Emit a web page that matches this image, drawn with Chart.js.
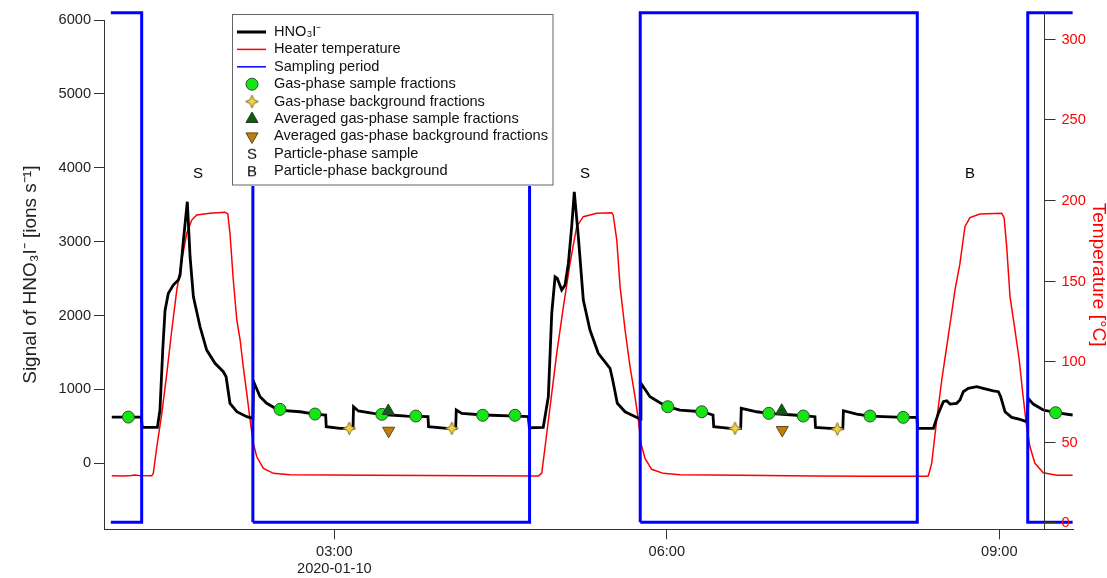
<!DOCTYPE html>
<html>
<head>
<meta charset="utf-8">
<script src="https://cdn.jsdelivr.net/npm/chart.js@4/dist/chart.umd.min.js"></script>
<style>
  html, body { margin: 0; padding: 0; background: #fff; }
  #wrap { width: 1107px; height: 578px; position: relative; }
</style>
</head>
<body>
<div id="wrap"><canvas id="hno3Chart"></canvas></div>
<script>
// time in minutes after 00:00, 2020-01-10
const timeTicks = [180, 360, 540];
const signalTicks = [0, 1000, 2000, 3000, 4000, 5000, 6000];
const tempTicks = [0, 50, 100, 150, 200, 250, 300];

const hno3Time = [59.5, 75.5, 76.0, 84.2, 85.6, 87.1, 88.35, 90.1, 92.8, 95.55, 96.5, 98.3, 100.4, 101.9, 103.7, 107.3, 110.9, 115.4, 119.9, 121.4, 123.5, 127.2, 132.6, 135.9, 136.3, 139.8, 143.4, 149.7, 161.4, 169.55, 175.3, 175.6, 183.1, 190.1, 190.4, 193.0, 201.1, 210.2, 219.2, 230.7, 231.0, 240.8, 245.7, 246.0, 249.0, 260.7, 278.7, 285.0, 285.6, 293.1, 295.85, 297.7, 299.5, 300.7, 303.1, 304.9, 306.7, 308.5, 309.9, 312.1, 314.8, 318.4, 322.9, 329.25, 330.7, 333.2, 337.4, 344.6, 345.6, 346.0, 350.9, 356.3, 360.5, 367.1, 378.9, 385.0, 385.4, 394.2, 400.0, 400.3, 408.7, 415.2, 428.5, 440.2, 440.5, 448.3, 455.3, 455.6, 462.8, 470.0, 488.0, 495.4, 495.8, 504.3, 507.0, 509.7, 511.5, 513.3, 516.9, 518.7, 520.5, 523.2, 527.8, 531.3, 536.75, 539.5, 540.75, 543.1, 546.7, 551.2, 555.0, 555.6, 558.4, 563.8, 570.5, 579.7];
const hno3Signal = [626, 626, 487, 487, 721, 1533, 2070, 2300, 2413, 2480, 2548, 3022, 3540, 2796, 2254, 1848, 1533, 1353, 1240, 1172, 812, 698, 631, 609, 1104, 901, 812, 721, 698, 667, 654, 496, 473, 473, 766, 708, 676, 654, 640, 631, 496, 473, 473, 721, 676, 654, 640, 631, 482, 487, 901, 2030, 2525, 2503, 2345, 2413, 2706, 3202, 3675, 3066, 2210, 1804, 1489, 1286, 1127, 812, 698, 609, 600, 1083, 901, 820, 766, 721, 698, 654, 496, 473, 473, 744, 698, 676, 654, 631, 487, 473, 473, 712, 667, 640, 622, 622, 473, 473, 676, 834, 847, 802, 812, 857, 969, 1015, 1037, 1015, 982, 969, 901, 698, 622, 595, 563, 880, 802, 721, 685, 654];

const heaterTime = [59.5, 66, 70, 72, 74, 81.15, 82.0, 83.9, 86.6, 89.3, 92.0, 94.7, 97.4, 100.1, 102.8, 105.5, 112.7, 120.8, 122.3, 123.5, 125.3, 127.2, 129.0, 130.7, 132.6, 134.4, 136.15, 138.0, 141.6, 147.0, 156.0, 200, 230, 260, 290.5, 292.3, 294.1, 296.8, 300.4, 304.0, 307.6, 311.2, 314.8, 322.05, 330.2, 331.0, 332.9, 334.7, 337.4, 340.1, 342.8, 344.6, 346.0, 348.2, 351.8, 358.1, 367.1, 400, 440, 470, 500.7, 501.6, 503.4, 506.1, 508.85, 511.5, 514.2, 516.0, 518.7, 521.4, 524.1, 529.55, 541.3, 542.6, 544.0, 545.8, 548.5, 550.8, 552.7, 554.8, 556.6, 559.3, 563.8, 571.1, 579.7];
const heaterTemp = [28.9, 28.8, 29.0, 29.4, 29.0, 28.9, 30.4, 46.9, 67.6, 92.4, 119.3, 144.1, 162.7, 179.3, 187.5, 190.6, 191.7, 192.3, 191.5, 179.3, 150.3, 125.5, 113.1, 96.5, 80.0, 63.5, 49.0, 40.7, 33.5, 30.4, 29.5, 29.3, 29.0, 28.9, 28.8, 30.5, 46.9, 71.7, 104.8, 133.7, 160.7, 183.4, 189.6, 191.7, 192.1, 190.5, 175.1, 146.2, 119.3, 96.5, 77.9, 63.5, 49.0, 39.7, 32.9, 30.4, 29.5, 29.2, 28.8, 28.6, 28.6, 28.9, 36.6, 63.5, 88.3, 108.9, 129.7, 144.1, 160.7, 183.4, 189.0, 191.3, 191.7, 189.0, 171.0, 140.0, 119.3, 100.7, 80.0, 59.3, 46.9, 36.6, 30.8, 29.3, 29.3];

// sampling periods (first and last are cut by the start / end of the record)
const samplingStart = [59.0, 135.9, 345.6, 555.4];
const samplingEnd = [75.7, 285.7, 495.6, 579.7];

const gasSampleTime = [68.5, 150.6, 169.55, 205.7, 224.1, 260.3, 277.8, 360.5, 378.9, 415.2, 433.9, 470.0, 488.0, 570.5];
const gasSampleSignal = [626, 730, 667, 663, 640, 650, 650, 766, 698, 676, 640, 640, 622, 685];
const gasBgTime = [188.1, 243.6, 396.9, 452.3];
const gasBgSignal = [473, 473, 473, 464];
const avgSampleTime = [209.2, 422.2];
const avgSampleSignal = [708, 712];
const avgBgTime = [209.4, 422.5];
const avgBgSignal = [441, 451];
const particleSampleTime = [106.2, 315.7];
const particleSampleSignal = [3930, 3930];
const particleBgTime = [524.1];
const particleBgSignal = [3930];

const FONT = '"Liberation Sans", Arial, sans-serif';
const tempAxisAt = 564.4; // time where the temperature axis sits

function pts(xs, ys) {
    return xs.map((x, i) => ({ x: x, y: ys[i] }));
}

// each sampling period as a box between flag 0 and flag 1
function samplingBoxes() {
    const out = [];
    const last = samplingStart.length - 1;
    samplingStart.forEach((s, i) => {
        const e = samplingEnd[i];
        if (i === 0) {
            out.push({ x: s, y: 1 }, { x: e, y: 1 }, { x: e, y: 0 }, { x: s, y: 0 });
        } else if (i === last) {
            out.push({ x: e, y: 0 }, { x: s, y: 0 }, { x: s, y: 1 }, { x: e, y: 1 });
        } else {
            out.push({ x: s, y: 0 }, { x: s, y: 1 }, { x: e, y: 1 }, { x: e, y: 0 }, { x: s, y: 0 });
        }
        out.push({ x: e, y: null });
    });
    return out;
}

function starImage(size, fill, stroke) {
    const c = document.createElement("canvas");
    c.width = c.height = size;
    const g = c.getContext("2d");
    const m = size / 2, r = size / 2 - 1, ri = r * 0.42;
    g.beginPath();
    for (let k = 0; k < 8; k++) {
        const a = -Math.PI / 2 + k * Math.PI / 4;
        const rr = k % 2 ? ri : r;
        g.lineTo(m + rr * Math.cos(a), m + rr * Math.sin(a));
    }
    g.closePath();
    g.fillStyle = fill;
    g.fill();
    g.strokeStyle = stroke;
    g.lineWidth = 1;
    g.stroke();
    return c;
}

function letterImage(ch) {
    const c = document.createElement("canvas");
    c.width = 16;
    c.height = 18;
    const g = c.getContext("2d");
    g.font = "15px " + FONT;
    g.textAlign = "center";
    g.textBaseline = "middle";
    g.fillStyle = "#000";
    g.fillText(ch, 8, 9.5);
    return c;
}

const legendLabels = [
    "HNO\u2083I\u207B",
    "Heater temperature",
    "Sampling period",
    "Gas-phase sample fractions",
    "Gas-phase background fractions",
    "Averaged gas-phase sample fractions",
    "Averaged gas-phase background fractions",
    "Particle-phase sample",
    "Particle-phase background",
];

const boxLegend = {
    id: "boxLegend",
    afterDraw(chart) {
        const ctx = chart.ctx;
        ctx.save();
        ctx.fillStyle = "#fff";
        ctx.fillRect(232, 10, 322, 176);
        ctx.strokeStyle = "#666";
        ctx.lineWidth = 1;
        ctx.strokeRect(232.5, 14.5, 320.5, 170.5);
        legendLabels.forEach((label, i) => {
            const ds = chart.data.datasets.find(d => d.label === label);
            const y = 32 + i * 17.4;
            if (ds.type === "line") {
                ctx.strokeStyle = ds.borderColor;
                ctx.lineWidth = ds.legendWidth;
                ctx.beginPath();
                ctx.moveTo(237, y);
                ctx.lineTo(266, y);
                ctx.stroke();
            } else {
                ctx.fillStyle = ds.backgroundColor || "#000";
                ctx.strokeStyle = ds.borderColor || "#000";
                ctx.lineWidth = ds.borderWidth || 0;
                Chart.helpers.drawPoint(ctx, {
                    pointStyle: ds.pointStyle,
                    radius: ds.pointRadius,
                    rotation: ds.pointRotation || 0,
                    borderWidth: ds.borderWidth || 0,
                }, 252, y);
            }
            ctx.fillStyle = "#111";
            ctx.font = "14.6px " + FONT;
            ctx.textAlign = "left";
            ctx.textBaseline = "middle";
            ctx.fillText(label, 274, y);
        });
        ctx.restore();
    },
};

// temperature axis drawn inside the plot, at tempAxisAt
const tempAxis = {
    id: "tempAxis",
    afterDatasetsDraw(chart) {
        const { ctx, chartArea, scales } = chart;
        const ax = Math.round(scales.x.getPixelForValue(tempAxisAt)) + 0.5;
        ctx.save();
        ctx.strokeStyle = "#333";
        ctx.lineWidth = 1;
        ctx.beginPath();
        ctx.moveTo(ax, scales.yFlag.getPixelForValue(1));
        ctx.lineTo(ax, chartArea.bottom);
        ctx.stroke();
        ctx.font = "14.6px " + FONT;
        ctx.fillStyle = "#ff0000";
        ctx.textAlign = "left";
        ctx.textBaseline = "middle";
        tempTicks.forEach(v => {
            const py = Math.round(scales.yTemp.getPixelForValue(v)) + 0.5;
            ctx.beginPath();
            ctx.moveTo(ax, py);
            ctx.lineTo(ax + 11, py);
            ctx.stroke();
            ctx.fillText(String(v), ax + 17, py);
        });
        ctx.translate(1098, (chartArea.top + chartArea.bottom) / 2);
        ctx.rotate(Math.PI / 2);
        ctx.textAlign = "center";
        ctx.font = "19px " + FONT;
        ctx.fillText("Temperature [\u00B0C]", 0, 0);
        ctx.restore();
    },
};

const ctx = document.getElementById("hno3Chart").getContext("2d");
const hno3Chart = new Chart(ctx, {
    type: "line",
    data: {
        datasets: [
            {
                label: "Particle-phase sample",
                type: "scatter",
                data: pts(particleSampleTime, particleSampleSignal),
                pointStyle: letterImage("S"),
                pointRadius: 8,
            },
            {
                label: "Particle-phase background",
                type: "scatter",
                data: pts(particleBgTime, particleBgSignal),
                pointStyle: letterImage("B"),
                pointRadius: 8,
            },
            {
                label: "Averaged gas-phase sample fractions",
                type: "scatter",
                data: pts(avgSampleTime, avgSampleSignal),
                pointStyle: "triangle",
                pointRadius: 7,
                backgroundColor: "#0d5e0d",
                borderColor: "#2b3b2b",
                borderWidth: 1,
            },
            {
                label: "Averaged gas-phase background fractions",
                type: "scatter",
                data: pts(avgBgTime, avgBgSignal),
                pointStyle: "triangle",
                pointRotation: 180,
                pointRadius: 7,
                backgroundColor: "#c07f08",
                borderColor: "#5a4a20",
                borderWidth: 1,
            },
            {
                label: "Gas-phase sample fractions",
                type: "scatter",
                data: pts(gasSampleTime, gasSampleSignal),
                pointStyle: "circle",
                pointRadius: 6,
                backgroundColor: "#14e614",
                borderColor: "#2f4f2f",
                borderWidth: 1,
            },
            {
                label: "Gas-phase background fractions",
                type: "scatter",
                data: pts(gasBgTime, gasBgSignal),
                pointStyle: starImage(15, "#f5d33c", "#80692a"),
                pointRadius: 7,
            },
            {
                label: "Sampling period",
                type: "line",
                data: samplingBoxes(),
                yAxisID: "yFlag",
                borderColor: "#0000ff",
                borderWidth: 3,
                legendWidth: 1.5,
                pointRadius: 0,
                spanGaps: false,
                clip: false,
            },
            {
                label: "HNO\u2083I\u207B",
                type: "line",
                data: pts(hno3Time, hno3Signal),
                borderColor: "#000000",
                borderWidth: 2.8,
                legendWidth: 3,
                pointRadius: 0,
            },
            {
                label: "Heater temperature",
                type: "line",
                data: pts(heaterTime, heaterTemp),
                yAxisID: "yTemp",
                borderColor: "#ff0000",
                borderWidth: 1.5,
                legendWidth: 1.5,
                pointRadius: 0,
            },
        ],
    },
    options: {
        responsive: true,
        maintainAspectRatio: false,
        animation: false,
        events: [],
        layout: { padding: { top: 20, right: 34, bottom: 0, left: 0 } },
        plugins: {
            legend: { display: false },
            tooltip: { enabled: false },
        },
        scales: {
            x: {
                type: "linear",
                min: 55.3,
                max: 579.9,
                afterBuildTicks: s => { s.ticks = timeTicks.map(v => ({ value: v })); },
                afterFit: s => { s.height = 48.7; },
                grid: { drawOnChartArea: false, tickLength: 10, color: "#333" },
                border: { color: "#333" },
                ticks: {
                    color: "#222",
                    font: { family: FONT, size: 14.6, lineHeight: 1.15 },
                    padding: 4,
                    maxRotation: 0,
                    callback: (v, i) => {
                        const hh = String(Math.floor(v / 60)).padStart(2, "0");
                        const mm = String(Math.round(v % 60)).padStart(2, "0");
                        const t = hh + ":" + mm;
                        return i === 0 ? [t, "2020-01-10"] : t;
                    },
                },
            },
            y: {
                position: "left",
                min: -893,
                max: 6000,
                afterBuildTicks: s => { s.ticks = signalTicks.map(v => ({ value: v })); },
                afterFit: s => { s.width = 104; },
                grid: { drawOnChartArea: false, tickLength: 10, color: "#333" },
                border: { color: "#333" },
                ticks: {
                    color: "#222",
                    font: { family: FONT, size: 14.6 },
                    padding: 3,
                    callback: v => String(v),
                },
                title: {
                    display: true,
                    text: "Signal of HNO\u2083I\u207B [ions s\u207B\u00B9]",
                    color: "#222",
                    font: { family: FONT, size: 19 },
                    padding: { top: 19, bottom: 0 },
                },
            },
            yTemp: { display: false, position: "right", min: -4.3, max: 311.6 },
            yFlag: { display: false, position: "right", min: -0.0137, max: 0.9857 },
        },
    },
    plugins: [tempAxis, boxLegend],
});
</script>
</body>
</html>
